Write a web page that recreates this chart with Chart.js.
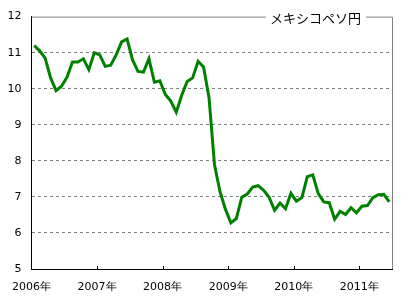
<!DOCTYPE html>
<html>
<head>
<meta charset="utf-8">
<script src="https://cdn.jsdelivr.net/npm/chart.js@4/dist/chart.umd.min.js"></script>
<style>
  body { margin: 0; background: #fff; }
  #wrap { width: 420px; height: 303px; }
</style>
</head>
<body>
<div id="wrap"><canvas id="peso"></canvas></div>
<script>
// monthly rate, Jan 2006 - Jun 2011
const rates = [
    11.2, 11.05, 10.85, 10.3, 9.95, 10.07, 10.32, 10.74, 10.74, 10.83, 10.53, 11.0,
    10.94, 10.62, 10.65, 10.94, 11.3, 11.38, 10.8, 10.48, 10.46, 10.83, 10.18, 10.22,
    9.84, 9.66, 9.35, 9.82, 10.2, 10.3, 10.76, 10.6, 9.75, 7.9, 7.15, 6.66,
    6.28, 6.4, 6.99, 7.08, 7.27, 7.31, 7.18, 6.99, 6.63, 6.83, 6.67, 7.1,
    6.88, 6.98, 7.56, 7.61, 7.09, 6.86, 6.84, 6.38, 6.6, 6.51, 6.7, 6.56,
    6.74, 6.76, 6.98, 7.06, 7.07, 6.86,
];
const yearLabels = ["2006年", "2007年", "2008年", "2009年", "2010年", "2011年"];
const seriesName = "メキシコペソ円";

const points = rates.map((v, i) => ({ x: i + 0.5, y: v }));

const frame = {
    id: "frame",
    afterDraw(chart) {
        const { ctx, chartArea: a, scales } = chart;
        ctx.save();
        ctx.strokeStyle = "#808080";
        ctx.lineWidth = 1;
        ctx.beginPath();
        ctx.moveTo(a.left, a.top + 0.5);
        ctx.lineTo(a.right + 0.5, a.top + 0.5);
        ctx.lineTo(a.right + 0.5, a.bottom);
        ctx.stroke();

        // inward year ticks
        ctx.strokeStyle = "#000";
        scales.x.ticks.forEach((t) => {
            if (t.value === 0) return;
            const px = Math.round(scales.x.getPixelForValue(t.value)) + 0.5;
            ctx.beginPath();
            ctx.moveTo(px, a.bottom - 3);
            ctx.lineTo(px, a.bottom);
            ctx.stroke();
        });

        ctx.font = "13px 'Noto Sans CJK JP'";
        ctx.textBaseline = "middle";
        ctx.textAlign = "right";
        const w = ctx.measureText(seriesName).width;
        const tx = a.right - 31;
        ctx.fillStyle = "#fff";
        ctx.fillRect(tx - w - 4, a.top - 6, w + 9, 12);
        ctx.fillStyle = "#000";
        ctx.fillText(seriesName, tx, a.top + 1);
        ctx.restore();
    },
};

new Chart(document.querySelector("#peso"), {
    type: "line",
    data: {
        datasets: [
            {
                label: seriesName,
                data: points,
                borderColor: "#008000",
                borderWidth: 3,
                pointRadius: 0,
                tension: 0,
            },
        ],
    },
    options: {
        responsive: true,
        maintainAspectRatio: false,
        animation: false,
        layout: { padding: { top: 15, right: 28 } },
        plugins: { legend: { display: false }, tooltip: { enabled: false } },
        scales: {
            x: {
                type: "linear",
                min: 0,
                max: 66,
                afterBuildTicks: (scale) => {
                    scale.ticks = yearLabels.map((_, i) => ({ value: i * 12 }));
                },
                afterFit: (scale) => {
                    scale.height = 34;
                },
                ticks: {
                    padding: 12,
                    color: "#000",
                    maxRotation: 0,
                    font: { family: "'DejaVu Sans'", size: 11 },
                    callback: (v) => yearLabels[v / 12],
                },
                grid: { display: false, drawTicks: false },
                border: { color: "#000", width: 1 },
            },
            y: {
                min: 5,
                max: 12,
                afterFit: (scale) => {
                    scale.width = 31;
                },
                ticks: {
                    stepSize: 1,
                    padding: 10,
                    color: "#000",
                    font: { family: "'DejaVu Sans'", size: 11 },
                },
                grid: {
                    drawTicks: false,
                    color: (c) =>
                        c.tick && (c.tick.value === 5 || c.tick.value === 12)
                            ? "transparent"
                            : "#808080",
                },
                border: { color: "#000", width: 1, dash: [3, 3] },
            },
        },
    },
    plugins: [frame],
});
</script>
</body>
</html>
